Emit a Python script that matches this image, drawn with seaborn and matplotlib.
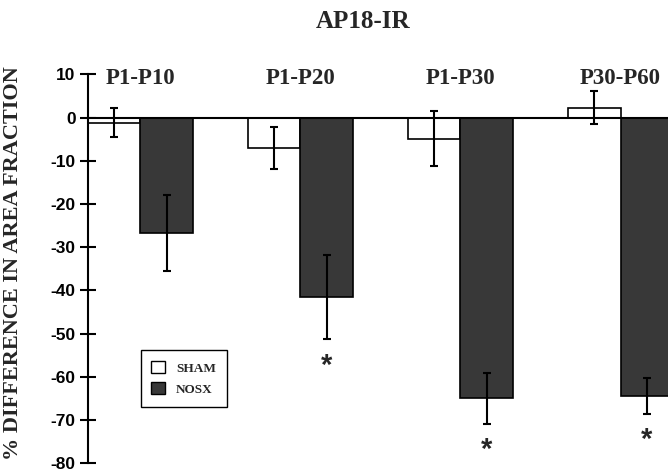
import numpy as np
import pandas as pd
import matplotlib
matplotlib.use("Agg")
import matplotlib.pyplot as plt
import seaborn as sns

# ---- data ----
title = "AP18-IR"
periods = ["P1-P10", "P1-P20", "P1-P30", "P30-P60"]
groups = ["SHAM", "NOSX"]
sham_mean = [-1.2, -7.1, -4.9, 2.3]
sham_err = [3.3, 4.9, 6.35, 3.85]
nosx_mean = [-26.7, -41.5, -64.9, -64.4]
nosx_err = [8.8, 9.8, 5.9, 4.1]
nosx_sig = [False, True, True, True]
yticks = [10, 0, -10, -20, -30, -40, -50, -60, -70, -80]
ylabel = "% DIFFERENCE IN AREA FRACTION"

sns.set_theme(style="white")
plt.rcParams["font.family"] = ["Liberation Serif", "DejaVu Serif"]

df = pd.DataFrame({
    "period": periods * 2,
    "group": ["SHAM"] * len(periods) + ["NOSX"] * len(periods),
    "value": sham_mean + nosx_mean,
})

fig = plt.figure(figsize=(6.68, 4.75), dpi=100)
ax_left = 87.5 / 668
ax_bottom = (475 - 463.3) / 475
ax_top = (475 - 74.3) / 475
ax = fig.add_axes([ax_left, ax_bottom, 1 - ax_left, ax_top - ax_bottom])

sns.barplot(data=df, x="period", y="value", hue="group", hue_order=groups,
            order=periods, palette={"SHAM": "white", "NOSX": "#383838"},
            edgecolor="black", linewidth=1.2, width=0.66, errorbar=None,
            saturation=1, ax=ax, zorder=2)

# error bars at the seaborn bar positions
for cont, means, errs in zip(ax.containers[:2], [sham_mean, nosx_mean], [sham_err, nosx_err]):
    xs = [b.get_x() + b.get_width() / 2 for b in cont]
    ax.errorbar(xs, means, yerr=errs, fmt="none", ecolor="black",
                elinewidth=1.5, capsize=2.6, capthick=1.5, zorder=4)

# significance asterisks below NOSX error bars
for b, m, e, s in zip(ax.containers[1], nosx_mean, nosx_err, nosx_sig):
    if s:
        ax.text(b.get_x() + b.get_width() / 2, m - e - 6.2, "*",
                ha="center", va="center", fontsize=21, fontweight="bold",
                family=["Liberation Sans", "DejaVu Sans"], zorder=5)

ax.axhline(0, color="black", lw=1.5, zorder=3)

# group labels above zero line
for i, p in enumerate(periods):
    ax.text(i, 9.0, p, ha="center", va="center", fontsize=16.5, fontweight="bold")

ax.set_ylim(-80, 10)
ax.set_xlim(-0.33, 3.2965)
ax.set_yticks(yticks)
ax.set_yticklabels([str(t) for t in yticks])
for lab in ax.get_yticklabels():
    lab.set_family(["Liberation Sans", "DejaVu Sans"])
    lab.set_fontweight("bold")
    lab.set_fontsize(12.5)
ax.tick_params(axis="y", direction="inout", length=11, width=1.5, pad=3,
               colors="black", left=True)
ax.set_xticks([])
ax.set_xlabel("")
ax.set_ylabel("")
for side in ["top", "right", "bottom"]:
    ax.spines[side].set_visible(False)
ax.spines["left"].set_color("black")
ax.spines["left"].set_linewidth(1.5)
ax.patch.set_alpha(0)

# legend
sns.move_legend(ax, loc="lower left", bbox_to_anchor=(0.0916, 0.1455),
                title=None, frameon=True, fancybox=False, framealpha=1,
                borderpad=0.82, labelspacing=0.6, handlelength=1.0,
                handleheight=1.0, handletextpad=0.85, borderaxespad=0,
                prop={"family": "Liberation Serif", "weight": "bold", "size": 9.5})
leg = ax.get_legend()
leg.get_frame().set_edgecolor("black")
leg.get_frame().set_linewidth(1.0)
for h in leg.legend_handles:
    h.set_edgecolor("black")
    h.set_linewidth(1.0)

fig.text(363.5 / 668, 1 - 21 / 475, title, ha="center", va="center",
         fontsize=18, fontweight="bold")
fig.text(13 / 668, 1 - 263 / 475, ylabel, rotation=90, ha="center", va="center",
         fontsize=16, fontweight="bold")

fig.savefig("out.png", dpi=100)
